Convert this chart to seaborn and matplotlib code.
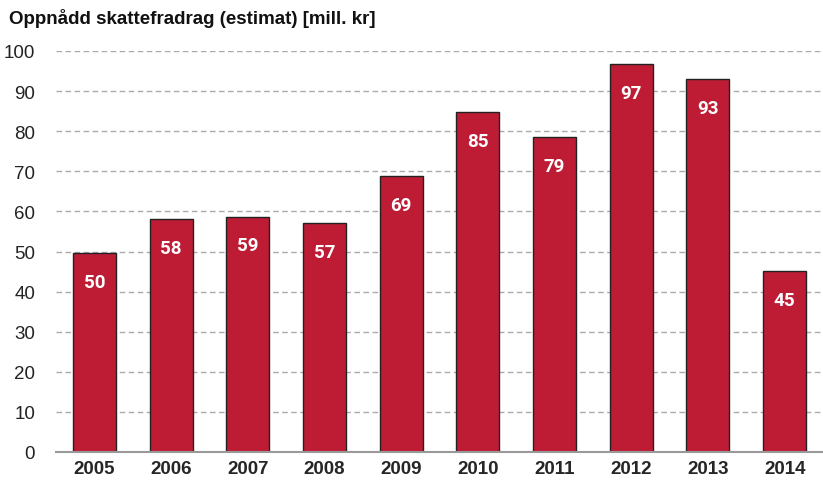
import matplotlib
matplotlib.use("Agg")
import matplotlib.pyplot as plt
import seaborn as sns
import pandas as pd

years = ["2005", "2006", "2007", "2008", "2009", "2010", "2011", "2012", "2013", "2014"]
values = [49.6, 58.0, 58.7, 57.1, 68.9, 84.7, 78.6, 96.7, 93.0, 45.1]
labels = ["50", "58", "59", "57", "69", "85", "79", "97", "93", "45"]
title = "Oppnådd skattefradrag (estimat) [mill. kr]"

df = pd.DataFrame({"year": years, "value": values})

sns.set_style("white")
plt.rcParams["font.family"] = ["Liberation Sans", "DejaVu Sans"]

fig = plt.figure(figsize=(8.23, 4.81), dpi=100)
# plassering i piksler: x 56..823, y 52..453
ax = fig.add_axes([56 / 823, (481 - 453) / 481, (823 - 56) / 823, (453 - 52) / 481])

sns.barplot(data=df, x="year", y="value", color="#BE1C34", saturation=1,
            width=0.56, edgecolor="#222222", linewidth=1.0, ax=ax, zorder=3)

# verdier inne i stolpene
for i, (v, lab) in enumerate(zip(values, labels)):
    ax.text(i, v - 7.2, lab, ha="center", va="center", color="white",
            fontsize=13.5, fontweight="bold", family="Roboto", zorder=4)

ax.set_ylim(0, 100)
ax.set_xlim(-0.5, 9.36)
ax.set_yticks(range(0, 101, 10))
ax.yaxis.grid(True, linestyle=(0, (4, 2.5)), color="#aaaaaa", linewidth=1.0, zorder=0)
ax.xaxis.grid(False)

for side in ["top", "right", "left"]:
    ax.spines[side].set_visible(False)
ax.spines["bottom"].set_color("#999999")
ax.spines["bottom"].set_linewidth(1.5)
ax.spines["bottom"].set_zorder(5)

ax.tick_params(axis="y", length=0, labelsize=13.5, labelcolor="#222222", pad=15)
ax.tick_params(axis="x", length=0, labelsize=13.5, pad=6)
for t in ax.get_xticklabels():
    t.set_fontweight("bold")

# små streker mellom kategoriene
ax.set_xticks([i - 0.5 for i in range(len(years) + 1)], minor=True)
ax.tick_params(axis="x", which="minor", length=5, width=1.2, color="#999999", direction="out")

ax.set_xlabel("")
ax.set_ylabel("")

fig.text(9 / 823, 1 - 19 / 481, title, ha="left", va="center",
         fontsize=13.5, fontweight="bold", color="#111111")

fig.savefig("out.png", dpi=100)
